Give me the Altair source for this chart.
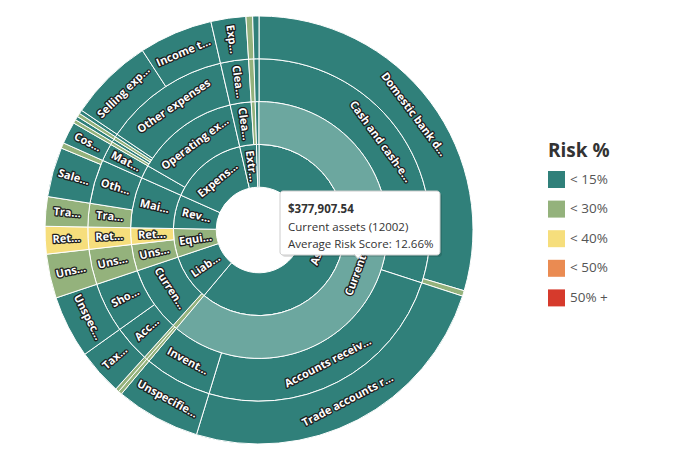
import math
import altair as alt
import pandas as pd

# ---------------- data: hierarchy, clockwise from 12 o'clock ----------------
node_ids = [
    "A", "A1", "A1a", "A1a1", "A1a2", "A1b", "A1b1", "A1c", "A1c1",
    "L", "L0", "L0a", "L0a1", "L0b", "L0b1", "L1", "L1a", "L1a1", "L1b", "L1b1",
    "E", "E1", "E1a", "E1a1", "E2", "E2a", "E2a1",
    "R", "R1", "R1a", "R1a1", "R1b", "R1b1", "R1b2",
    "X", "X1", "X1a", "X1a1", "X2", "X2a", "X2a1", "X2b", "X2b1", "X2c", "X2c1",
    "X2d", "X2d1", "X2e", "X2e1", "X2e2",
    "Z", "Z1", "Z1a", "Z1a1", "Z2", "Z2a", "Z2a1",
    "O", "O1", "O1a", "O1a1",
]
parent_ids = [
    "", "A", "A1", "A1a", "A1a", "A1", "A1b", "A1", "A1c",
    "", "L", "L0", "L0a", "L0", "L0b", "L", "L1", "L1a", "L1", "L1b",
    "", "E", "E1", "E1a", "E", "E2", "E2a",
    "", "R", "R1", "R1a", "R1", "R1b", "R1b",
    "", "X", "X1", "X1a", "X", "X2", "X2a", "X2", "X2b", "X2", "X2c",
    "X2", "X2d", "X2", "X2e", "X2e",
    "", "Z", "Z1", "Z1a", "Z", "Z2", "Z2a",
    "", "O", "O1", "O1a",
]
node_labels = [
    "Ass…", "Current a…", "Cash and cash-e…", "Domestic bank d…", "", "Accounts receiv…",
    "Trade accounts r…", "Invent…", "Unspecifie…",
    "Liab…", "", "", "", "", "", "Curren…", "Acc…", "Tax…", "Sho…", "Unspec…",
    "Equi…", "Uns…", "Uns…", "Uns…", "Ret…", "Ret…", "Ret…",
    "Rev…", "Mai…", "Tra…", "Tra…", "Oth…", "Sale…", "",
    "Expens…", "", "Mat…", "Cos…", "Operating ex…", "", "", "", "", "", "",
    "", "", "Other expenses", "Selling exp…", "Income t…",
    "Extr…", "Clea…", "Clea…", "Exp…", "", "", "",
    "", "", "", "",
]
node_risk = [
    "< 15%", "< 15%", "< 15%", "< 15%", "< 30%", "< 15%", "< 15%", "< 15%", "< 15%",
    "< 15%", "< 30%", "< 30%", "< 30%", "< 30%", "< 30%", "< 15%", "< 15%", "< 15%", "< 15%", "< 15%",
    "< 30%", "< 30%", "< 30%", "< 30%", "< 40%", "< 40%", "< 40%",
    "< 15%", "< 15%", "< 30%", "< 30%", "< 15%", "< 15%", "< 30%",
    "< 15%", "< 15%", "< 15%", "< 15%", "< 15%", "< 30%", "< 30%", "< 15%", "< 15%", "< 30%", "< 30%",
    "< 15%", "< 15%", "< 15%", "< 15%", "< 15%",
    "< 15%", "< 15%", "< 15%", "< 15%", "< 30%", "< 30%", "< 30%",
    "< 15%", "< 15%", "< 15%", "< 15%",
]
leaf_values = [
    0, 0, 0, 182940.73, 2576.64, 0, 152881.17, 0, 39509.00,
    0, 0, 0, 1720.00, 0, 1715.00, 0, 0, 21472.00, 0, 29202.00,
    0, 0, 0, 20613.00, 0, 0, 12883.00,
    0, 0, 0, 13742.00, 0, 23190.00, 2577.00,
    0, 0, 0, 10307.00, 0, 0, 1718.00, 0, 1718.00, 0, 1718.00,
    0, 1718.00, 0, 39508.00, 34355.00,
    0, 0, 0, 16319.00, 0, 0, 3092.00,
    0, 0, 0, 2920.00,
]

risk_domain = ["< 15%", "< 30%", "< 40%", "< 50%", "50% +"]
risk_colors = ["#30807a", "#94b27c", "#f6de7c", "#ea8b52", "#d63a2c"]
hover_id = "A1"
hover_color = "#6ca79f"
tooltip_name = "Current assets (12002)"
tooltip_score = "Average Risk Score: 12.66%"

# ---------------- sunburst layout from the hierarchy ----------------
idx = {n: i for i, n in enumerate(node_ids)}
children = {}
for nid, pid in zip(node_ids, parent_ids):
    children.setdefault(pid, []).append(nid)

totals = {}


def total(nid):
    s = leaf_values[idx[nid]] + sum(total(k) for k in children.get(nid, []))
    totals[nid] = s
    return s


grand = sum(total(n) for n in children[""])
RING = 214 / 5
rows = []


def place(nid, start, depth):
    end = start + totals[nid]
    mid_deg = (start + end) / 2 / grand * 360
    arc_len = (depth + 0.5) * RING * (end - start) / grand * 2 * math.pi
    a = mid_deg if arc_len > 50 else mid_deg - 90
    a = a % 360
    if 90 < a < 270:
        a -= 180
    rows.append(dict(id=nid, label=node_labels[idx[nid]], risk=node_risk[idx[nid]],
                     start=start, end=end, mid=(start + end) / 2,
                     r1=depth, r2=depth + 1, rmid=depth + 0.5, rot=a % 360))
    s = start
    for k in children.get(nid, []):
        place(k, s, depth + 1)
        s += totals[k]


s0 = 0
for n in children[""]:
    place(n, s0, 1)
    s0 += totals[n]

df = pd.DataFrame(rows)
tooltip_value = "${:,.2f}".format(totals[hover_id])

theta_scale = alt.Scale(domain=[0, grand], range=[0, 2 * math.pi])
r_scale = alt.Scale(type="linear", domain=[0, 5], range=[0, 214])

base = alt.Chart(df)

arcs = base.mark_arc(stroke="white", strokeWidth=1).encode(
    theta=alt.Theta("start:Q", scale=theta_scale, stack=False),
    theta2="end:Q",
    radius=alt.Radius("r1:Q", scale=r_scale),
    radius2="r2:Q",
    color=alt.Color(
        "risk:N",
        scale=alt.Scale(domain=risk_domain, range=risk_colors),
        legend=alt.Legend(
            title="Risk %", orient="none", legendX=540, legendY=134,
            symbolType="square", symbolSize=289, symbolStrokeWidth=0, symbolOpacity=1,
            titleFont="Open Sans", titleFontSize=19, titleFontWeight="bold", titleColor="#333333",
            labelFont="Open Sans", labelFontSize=13.5, labelColor="#555555",
            rowPadding=12.6, titlePadding=10, labelOffset=5,
        ),
    ),
)

hover = base.transform_filter(alt.datum.id == hover_id).mark_arc(
    fill=hover_color, stroke="white", strokeWidth=1
).encode(
    theta=alt.Theta("start:Q", scale=theta_scale, stack=False),
    theta2="end:Q",
    radius=alt.Radius("r1:Q", scale=r_scale),
    radius2="r2:Q",
)

label_enc = dict(
    theta=alt.Theta("mid:Q", scale=theta_scale, stack=False),
    radius=alt.Radius("rmid:Q", scale=r_scale),
    text="label:N",
    angle=alt.Angle("rot:Q", scale=None),
)
lab_base = base.transform_filter(alt.datum.label != "")
labels_outline = lab_base.mark_text(
    font="Open Sans", fontSize=11, fontWeight="bold", fill="white",
    stroke="#1e1e1e", strokeWidth=2.6, strokeJoin="round", align="center", baseline="middle",
).encode(**label_enc)
labels_fill = lab_base.mark_text(
    font="Open Sans", fontSize=11, fontWeight="bold", fill="white",
    align="center", baseline="middle",
).encode(**label_enc)

one = pd.DataFrame({"k": [0]})
tip_shadow = alt.Chart(one).mark_rect(fill="#000000", opacity=0.12, cornerRadius=3).encode(
    x=alt.value(274), x2=alt.value(434), y=alt.value(185), y2=alt.value(249))
tip_box = alt.Chart(one).mark_rect(fill="white", stroke="#cccccc", strokeWidth=1, cornerRadius=3).encode(
    x=alt.value(272), x2=alt.value(432), y=alt.value(183), y2=alt.value(247))
tip_ptr = alt.Chart(one).mark_point(
    shape="M -1 -1 L 0 0.2 L 1 -1", filled=True, fill="white", stroke="#cccccc",
    strokeWidth=1, size=60, opacity=1,
).encode(x=alt.value(350), y=alt.value(250))

tip_lines = pd.DataFrame({"t": [tooltip_value, tooltip_name, tooltip_score]})
tip_t1 = alt.Chart(tip_lines.iloc[[0]]).mark_text(
    font="Open Sans", fontSize=11.5, fontWeight="bold", color="#333333", align="left", baseline="middle"
).encode(text="t:N", x=alt.value(280), y=alt.value(202))
tip_t2 = alt.Chart(tip_lines.iloc[[1]]).mark_text(
    font="Open Sans", fontSize=11.5, color="#333333", align="left", baseline="middle"
).encode(text="t:N", x=alt.value(280), y=alt.value(220))
tip_t3 = alt.Chart(tip_lines.iloc[[2]]).mark_text(
    font="Open Sans", fontSize=11.5, color="#333333", align="left", baseline="middle"
).encode(text="t:N", x=alt.value(280), y=alt.value(237))

chart = alt.layer(
    arcs, hover, labels_outline, labels_fill, tip_shadow, tip_box, tip_ptr, tip_t1, tip_t2, tip_t3
).properties(
    width=502, height=444, padding=0, background="white"
).configure_view(strokeWidth=0)

chart.save("out.html", embed_options={"renderer": "svg", "actions": False})
